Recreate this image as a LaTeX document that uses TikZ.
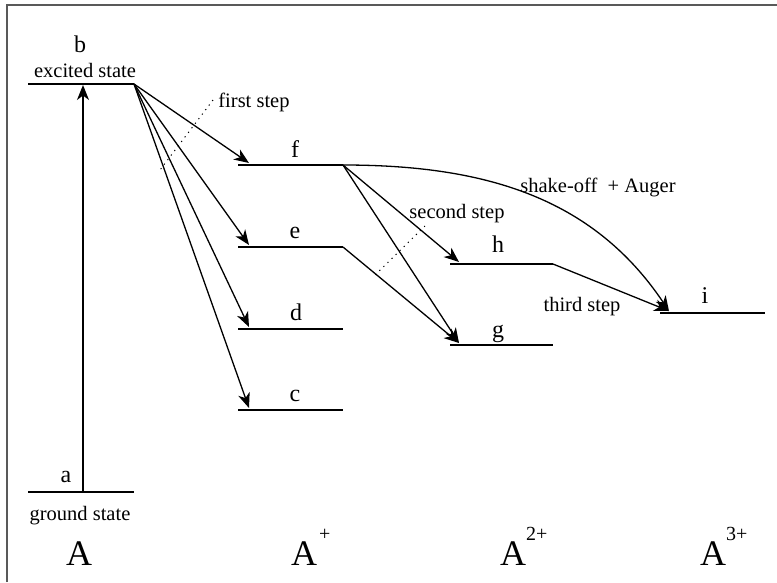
\documentclass[tikz,border=0pt]{standalone}
\usepackage{fontspec}
\setmainfont{Liberation Serif}
\usetikzlibrary{arrows.meta}
\begin{document}
\begin{tikzpicture}[x=1pt,y=-1pt,
  level/.style={line width=1.8pt},
  trans/.style={line width=1.3pt,-{Stealth[length=15pt,width=12pt,inset=4.5pt]}},
  dotline/.style={line width=1pt,dash pattern=on 1.2pt off 4.5pt},
  lab/.style={font=\fontsize{20.5}{24}\selectfont,anchor=base,inner sep=0pt},
  let/.style={font=\fontsize{24}{27}\selectfont,anchor=base,inner sep=0pt},
  ion/.style={font=\fontsize{36}{40}\selectfont,anchor=base west,inner sep=0pt},
  sup/.style={font=\fontsize{20}{24}\selectfont,anchor=base west,inner sep=0pt}]
\useasboundingbox (0,0) rectangle (777,582);
% frame
\draw[gray!70!black,line width=1.4pt] (7,582) -- (7,5) -- (777,5);
% level coordinates
\coordinate (aL) at (28,492); \coordinate (aR) at (134,492); \coordinate (aM) at (83,492);
\coordinate (bL) at (28,84);  \coordinate (bR) at (134,84);  \coordinate (bM) at (83,85);
\coordinate (fL) at (238,165); \coordinate (fR) at (343,165); \coordinate (fT) at (249,163);
\coordinate (eL) at (238,247); \coordinate (eR) at (343,247); \coordinate (eT) at (249,245);
\coordinate (dL) at (238,329); \coordinate (dR) at (343,329); \coordinate (dT) at (249,327);
\coordinate (cL) at (238,410); \coordinate (cR) at (343,410); \coordinate (cT) at (249,408);
\coordinate (hL) at (450,264); \coordinate (hR) at (553,264); \coordinate (hT) at (459,262);
\coordinate (gL) at (450,345); \coordinate (gR) at (553,345); \coordinate (gT) at (459,343);
\coordinate (iL) at (660,313); \coordinate (iR) at (765,313); \coordinate (iT) at (669,311);
% levels
\foreach \n in {a,b,f,e,d,c,h,g,i} \draw[level] (\n L) -- (\n R);
% transitions
\draw[trans] (aM) -- (bM);
\draw[trans] (bR) -- (fT);
\draw[trans] (bR) -- (eT);
\draw[trans] (bR) -- (dT);
\draw[trans] (bR) -- (cT);
\draw[trans] (fR) -- (hT);
\draw[trans] (fR) -- (gT);
\draw[trans] (eR) -- (gT);
\draw[trans] (hR) -- (iT);
\draw[trans] (fR) .. controls (482,165) and (592,196) .. (iT);
% dotted step markers
\coordinate (s1a) at (213,100); \coordinate (s1b) at (160,170);
\coordinate (s2a) at (425,226); \coordinate (s2b) at (373,277);
\draw[dotline] (s1a) -- (s1b);
\draw[dotline] (s2a) -- (s2b);
% level labels
\node[let] (tb) at (80,52) {b};
\node[lab] (tex) at (85,77) {excited state};
\node[let] (ta) at (66,482) {a};
\node[lab] (tgr) at (80,520) {ground state};
\node[let] (tf) at (295,157) {f};
\node[let] (te) at (295,238) {e};
\node[let] (td) at (296,320) {d};
\node[let] (tc) at (295,401) {c};
\node[let] (th) at (498,252) {h};
\node[let] (tg) at (498,337) {g};
\node[let] (ti) at (705,303) {i};
% step labels
\node[lab] (t1) at (254,107) {first step};
\node[lab] (t2) at (457,218) {second step};
\node[lab] (t3) at (582,311) {third step};
\node[lab] (t4) at (598,192) {shake-off\ \ + Auger};
% ion labels
\node[ion] (A0) at (66,565) {A};
\node[ion] (A1) at (291,565) {A};
\node[sup] (A1s) at (319,540) {+};
\node[ion] (A2) at (500,565) {A};
\node[sup] (A2s) at (526,540) {2+};
\node[ion] (A3) at (700,565) {A};
\node[sup] (A3s) at (726,540) {3+};
\end{tikzpicture}
\end{document}
